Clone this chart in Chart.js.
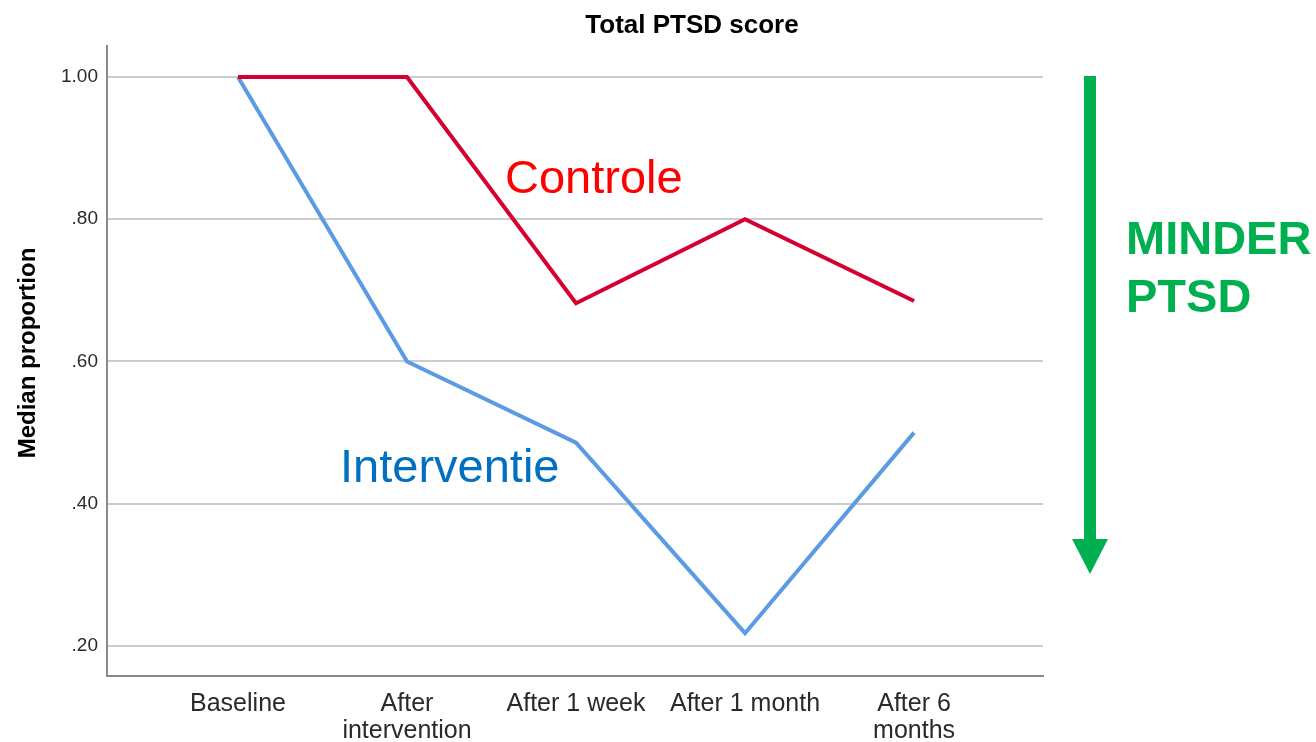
<!DOCTYPE html>
<html>
<head>
<meta charset="utf-8">
<style>
  html, body { margin: 0; padding: 0; background: #fff; }
  #wrap { width: 1316px; height: 742px; }
</style>
<script src="https://cdn.jsdelivr.net/npm/chart.js@4/dist/chart.umd.min.js"></script>
</head>
<body>
<div id="wrap"><canvas id="ptsdChart"></canvas></div>
<script>
const categories = ['Baseline', ['After', 'intervention'], 'After 1 week', 'After 1 month', ['After 6', 'months']];
const controle = [1.00, 1.00, 0.682, 0.80, 0.685];
const interventie = [1.00, 0.60, 0.486, 0.218, 0.50];
const yTicks = [0.20, 0.40, 0.60, 0.80, 1.00];

const FONT = '"Liberation Sans", Arial, sans-serif';

// extra texts and the green arrow
const annotations = {
  id: 'annotations',
  afterDraw(chart) {
    const ctx = chart.ctx;
    ctx.save();

    ctx.fillStyle = '#000';
    ctx.font = 'bold 26px ' + FONT;
    ctx.textAlign = 'center';
    ctx.textBaseline = 'alphabetic';
    ctx.fillText('Total PTSD score', 692, 33);

    ctx.save();
    ctx.translate(28, 353);
    ctx.rotate(-Math.PI / 2);
    ctx.font = 'bold 24px ' + FONT;
    ctx.textBaseline = 'middle';
    ctx.fillText('Median proportion', 0, 0);
    ctx.restore();

    ctx.textAlign = 'left';
    ctx.font = '47px ' + FONT;
    ctx.fillStyle = '#ff0000';
    ctx.fillText('Controle', 505, 193);
    ctx.fillStyle = '#0070c0';
    ctx.fillText('Interventie', 340, 482);

    ctx.fillStyle = '#00b050';
    ctx.font = 'bold 47px ' + FONT;
    ctx.fillText('MINDER', 1126, 254);
    ctx.fillText('PTSD', 1126, 312);

    ctx.fillRect(1084, 76, 12, 464);
    ctx.beginPath();
    ctx.moveTo(1072, 539);
    ctx.lineTo(1108, 539);
    ctx.lineTo(1090, 574);
    ctx.closePath();
    ctx.fill();

    ctx.restore();
  }
};

new Chart(document.getElementById('ptsdChart'), {
  type: 'line',
  data: {
    datasets: [{
      label: 'Controle',
      data: controle.map((v, i) => ({ x: i, y: v })),
      borderColor: '#d50032',
      borderWidth: 4,
      pointRadius: 0,
      tension: 0,
      fill: false
    }, {
      label: 'Interventie',
      data: interventie.map((v, i) => ({ x: i, y: v })),
      borderColor: '#5b9be4',
      borderWidth: 4,
      pointRadius: 0,
      tension: 0,
      fill: false
    }]
  },
  options: {
    responsive: true,
    maintainAspectRatio: false,
    animation: false,
    layout: { padding: { top: 46, right: 273, left: 0, bottom: 0 } },
    plugins: {
      legend: { display: false },
      tooltip: { enabled: false }
    },
    scales: {
      x: {
        type: 'linear',
        min: -0.775,
        max: 4.763,
        afterBuildTicks: s => { s.ticks = categories.map((c, i) => ({ value: i })); },
        afterFit: s => { s.height = 66; },
        grid: { display: false, drawTicks: false },
        border: { display: true, color: '#8a8a8a', width: 2 },
        ticks: {
          padding: 15,
          color: '#2a2a2a',
          font: { family: FONT, size: 25, lineHeight: 1.08 },
          maxRotation: 0,
          callback: v => categories[v]
        }
      },
      y: {
        min: 0.1578,
        max: 1.0436,
        afterBuildTicks: s => { s.ticks = yTicks.map(v => ({ value: v })); },
        afterFit: s => { s.width = 107; },
        grid: { color: '#cccccc', lineWidth: 2, drawTicks: false },
        border: { display: true, color: '#8a8a8a', width: 2 },
        ticks: {
          padding: 9,
          color: '#2a2a2a',
          font: { family: FONT, size: 19 },
          callback: v => v.toFixed(2).replace(/^0/, '')
        }
      }
    }
  },
  plugins: [annotations]
});
</script>
</body>
</html>
